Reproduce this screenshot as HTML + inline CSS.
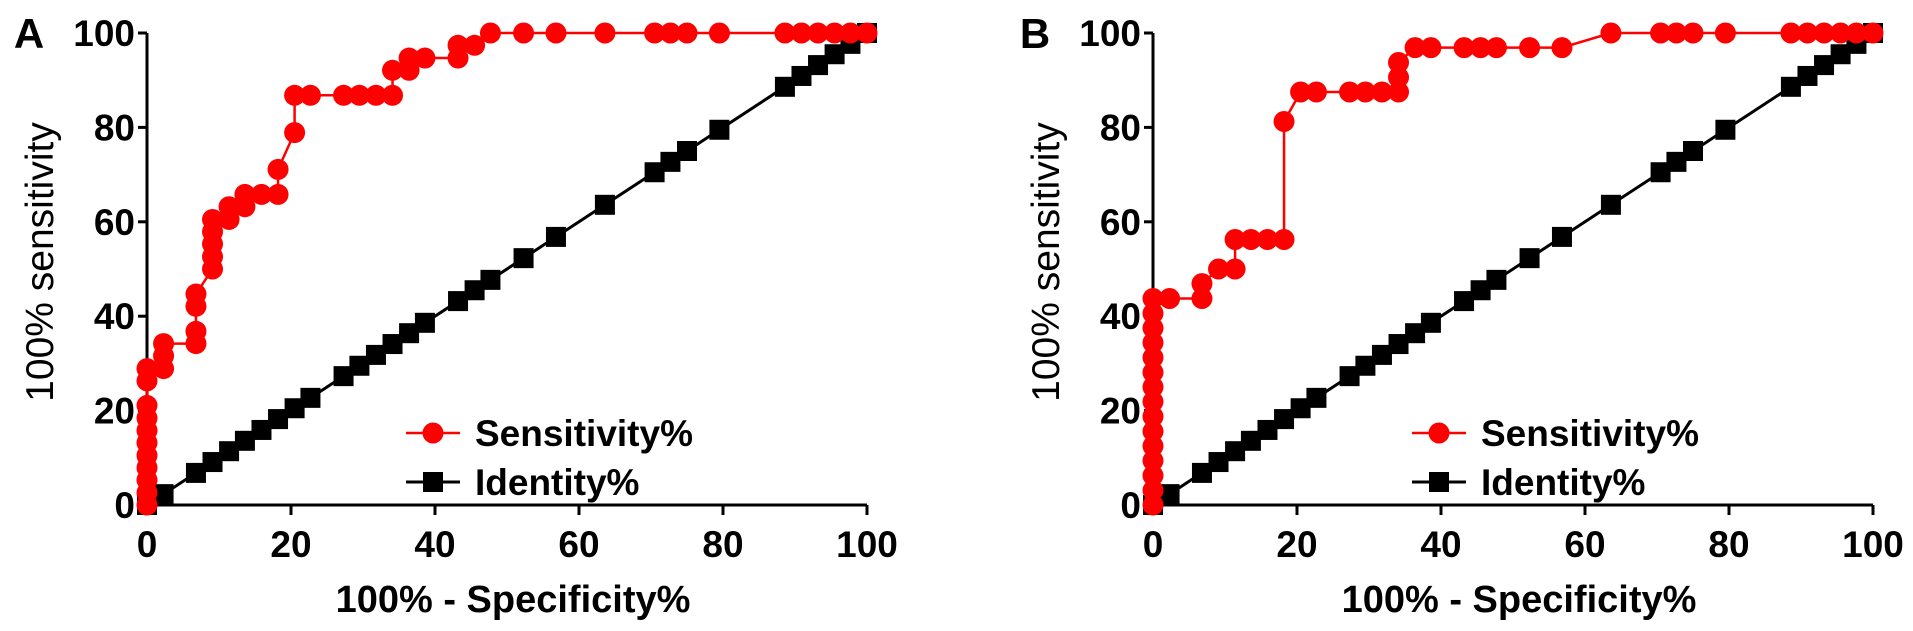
<!DOCTYPE html>
<html><head><meta charset="utf-8"><style>
html,body{margin:0;padding:0;background:#fff}
svg{display:block}
text{font-family:"Liberation Sans",Arial,sans-serif}
</style></head><body>
<svg id="chart" width="1913" height="631" viewBox="0 0 1913 631" xmlns="http://www.w3.org/2000/svg"></svg>
<script>
const xTicks = [0, 20, 40, 60, 80, 100];
const yTicks = [0, 20, 40, 60, 80, 100];
const identityX = [0, 2.3, 6.8, 9.1, 11.4, 13.6, 15.9, 18.2, 20.5, 22.7, 27.3, 29.5, 31.8, 34.1, 36.4, 38.6, 43.2, 45.5, 47.7, 52.3, 56.8, 63.6, 70.5, 72.7, 75, 79.5, 88.6, 90.9, 93.2, 95.5, 97.7, 100];
const identityY = [0, 2.3, 6.8, 9.1, 11.4, 13.6, 15.9, 18.2, 20.5, 22.7, 27.3, 29.5, 31.8, 34.1, 36.4, 38.6, 43.2, 45.5, 47.7, 52.3, 56.8, 63.6, 70.5, 72.7, 75, 79.5, 88.6, 90.9, 93.2, 95.5, 97.7, 100];
const sensAX = [0,0,0,0,0,0,0,0,0,0,0,2.3,2.3,2.3,6.8,6.8,6.8,6.8,9.1,9.1,9.1,9.1,9.1,11.4,11.4,13.6,13.6,15.9,18.2,18.2,20.5,20.5,22.7,27.3,29.5,31.8,34.1,34.1,36.4,36.4,38.6,43.2,43.2,45.5,47.7,52.3,56.8,63.6,70.5,72.7,75,79.5,88.6,90.9,93.2,95.5,97.7,100];
const sensAY = [0,2.6,5.3,7.9,10.5,13.2,15.8,18.4,21.1,26.3,28.9,28.9,31.6,34.2,34.2,36.8,42.1,44.7,50,52.6,55.3,57.9,60.5,60.5,63.2,63.2,65.8,65.8,65.8,71.1,78.9,86.8,86.8,86.8,86.8,86.8,86.8,92.1,92.1,94.7,94.7,94.7,97.4,97.4,100,100,100,100,100,100,100,100,100,100,100,100,100,100];
const sensBX = [0,0,0,0,0,0,0,0,0,0,0,0,0,0,0,2.3,6.8,6.8,9.1,11.4,11.4,13.6,15.9,18.2,18.2,20.5,22.7,27.3,29.5,31.8,34.1,34.1,34.1,36.4,38.6,43.2,45.5,47.7,52.3,56.8,63.6,70.5,72.7,75,79.5,88.6,90.9,93.2,95.5,97.7,100];
const sensBY = [0,3.1,6.25,9.4,12.5,15.6,18.75,21.9,25,28.1,31.25,34.4,37.5,40.6,43.75,43.75,43.75,46.9,50,50,56.25,56.25,56.25,56.25,81.25,87.5,87.5,87.5,87.5,87.5,87.5,90.6,93.75,96.9,96.9,96.9,96.9,96.9,96.9,96.9,100,100,100,100,100,100,100,100,100,100,100];

const NS = "http://www.w3.org/2000/svg";
const svg = document.getElementById('chart');
function mk(tag, attrs, parent) {
  const e = document.createElementNS(NS, tag);
  for (const k in attrs) e.setAttribute(k, attrs[k]);
  (parent || svg).appendChild(e);
  return e;
}
const Y0 = 505, Y100 = 33;
function yScale(v) { return Y0 + (Y100 - Y0) * v / 100; }

function panel(letter, x0, sx, sy, letterX, titleX) {
  const g = mk('g', {});
  
  
  const xs = v => x0 + 7.2 * v;
  const L = mk('text', {x: letterX, y: 48, 'font-size': 42, 'font-weight': 'bold', 'text-anchor': 'middle'}, g);
  L.textContent = letter;
  
  
  const ax = mk('path', {d: `M${x0} ${Y100}V${Y0}H${xs(100)}`, stroke: '#000', 'stroke-width': 3, fill: 'none'}, g);
  
  
  yTicks.forEach(t => {
    mk('line', {x1: x0 - 9, x2: x0, y1: yScale(t), y2: yScale(t), stroke: '#000', 'stroke-width': 3}, g);
    const tl = mk('text', {x: x0 - 12, y: yScale(t) + 13, 'font-size': 37, 'font-weight': 'bold', 'text-anchor': 'end'}, g);
    tl.textContent = t;
    
    
  });
  xTicks.forEach(t => {
    mk('line', {x1: xs(t), x2: xs(t), y1: Y0, y2: Y0 + 10, stroke: '#000', 'stroke-width': 3}, g);
    const tl = mk('text', {x: xs(t), y: 557, 'font-size': 37, 'font-weight': 'bold', 'text-anchor': 'middle'}, g);
    tl.textContent = t;
    
    
  });
  const xt = mk('text', {x: titleX, y: 612, 'font-size': 38, 'font-weight': 'bold', 'text-anchor': 'middle'}, g);
  xt.textContent = '100% - Specificity%';
  
  
  const yx = letterX + 10;
  const yt = mk('text', {x: yx, y: 262, 'font-size': 39, 'text-anchor': 'middle', transform: `rotate(-90 ${yx} 262) translate(0 14)`}, g);
  yt.textContent = '100% sensitivity';
  
  
  const idp = identityX.map((v, i) => xs(v) + ',' + yScale(identityY[i])).join(' ');
  const il = mk('polyline', {points: idp, fill: 'none', stroke: '#000', 'stroke-width': 3}, g);
  
  
  identityX.forEach((v, i) => {
    const r = mk('rect', {x: xs(v) - 10, y: yScale(identityY[i]) - 10, width: 20, height: 20, fill: '#000'}, g);
    
    
  });
  const sp = sx.map((v, i) => xs(v) + ',' + yScale(sy[i])).join(' ');
  const sl = mk('polyline', {points: sp, fill: 'none', stroke: '#f00', 'stroke-width': 2.5}, g);
  
  
  sx.forEach((v, i) => {
    const c = mk('circle', {cx: xs(v), cy: yScale(sy[i]), r: 10.5, fill: '#f00'}, g);
    
    
  });
  const lx = x0 + 286;
  const lg = mk('g', {}, g);
  
  
  mk('line', {x1: lx - 27, x2: lx + 27, y1: 433, y2: 433, stroke: '#f00', 'stroke-width': 2.5}, lg);
  mk('circle', {cx: lx, cy: 433, r: 10.5, fill: '#f00'}, lg);
  const t1 = mk('text', {x: lx + 42, y: 446, 'font-size': 37, 'font-weight': 'bold'}, lg);
  t1.textContent = 'Sensitivity%';
  
  
  mk('line', {x1: lx - 27, x2: lx + 27, y1: 482, y2: 482, stroke: '#000', 'stroke-width': 3}, lg);
  mk('rect', {x: lx - 10, y: 472, width: 20, height: 20, fill: '#000'}, lg);
  const t2 = mk('text', {x: lx + 42, y: 495, 'font-size': 37, 'font-weight': 'bold'}, lg);
  t2.textContent = 'Identity%';
  
  
}
panel('A', 147, sensAX, sensAY, 29, 513);
panel('B', 1153, sensBX, sensBY, 1035, 1519);
</script>
</body></html>
